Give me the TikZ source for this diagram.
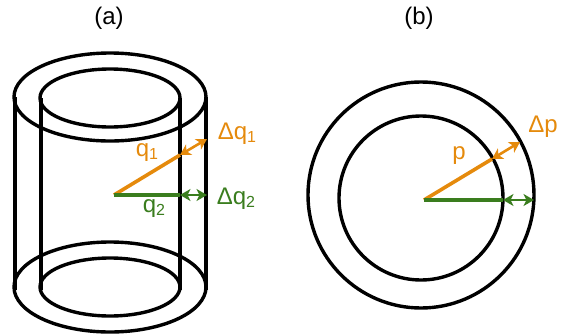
\documentclass[tikz,border=0pt]{standalone}
\usepackage{fontspec}
\setmainfont{Liberation Sans}
\usetikzlibrary{arrows.meta}
\definecolor{arrorange}{HTML}{E58A0C}
\definecolor{arrgreen}{HTML}{3A7D1E}
\newcommand{\subq}[1]{q\raisebox{-3pt}{\fontsize{16}{16}\selectfont #1}}
\tikzset{
  wall/.style={line width=3.9pt,black},
  rim/.style={line width=3.4pt,black},
  spoke/.style={line width=3.6pt},
  gap/.style={<->,line width=2.6pt},
  lab/.style={font=\fontsize{24}{26}\selectfont,inner sep=0pt},
}
\begin{document}
\begin{tikzpicture}[x=1pt,y=-1pt,>={Stealth[length=10.5pt,width=12pt,inset=3pt]}]
\useasboundingbox (0,0) rectangle (566,333);

% (a)
\draw[wall] (15,97)--(15,290);
\draw[wall] (206,97)--(206,290);
\draw[wall] (41,98)--(41,290);
\draw[wall] (180,98)--(180,290);
\draw[rim] (110,97) ellipse [x radius=96,y radius=44];
\draw[rim] (110,98) ellipse [x radius=70,y radius=29];
\draw[rim] (110,287) ellipse [x radius=96,y radius=45];
\draw[rim] (110,287) ellipse [x radius=70,y radius=29];

\coordinate (Oa) at (114,195);
\coordinate (Qa) at (180,155);
\coordinate (Ra) at (207,139);
\coordinate (Sa) at (180,195);
\coordinate (Ta) at (207,195);
\draw[spoke,arrorange] (Oa)--(Qa);
\draw[gap,arrorange] (Qa)--(Ra);
\draw[spoke,arrgreen] (Oa)--(Sa);
\draw[gap,arrgreen] (Sa)--(Ta);

% (b)
\coordinate (Ob) at (424,200);
\coordinate (Qb) at (492,159);
\coordinate (Rb) at (520,142);
\coordinate (Sb) at (503,200);
\coordinate (Tb) at (534,200);
\coordinate (Co) at (421,195);
\coordinate (Ci) at (421,198);
\draw[rim] (Co) circle [radius=113];
\draw[rim] (Ci) circle [radius=82];
\draw[spoke,arrorange] (Ob)--(Qb);
\draw[gap,arrorange] (Qb)--(Rb);
\draw[spoke,arrgreen] (Ob)--(Sb);
\draw[gap,arrgreen] (Sb)--(Tb);

\node[lab] (capa) at (109,18) {(a)};
\node[lab] (capb) at (419,18) {(b)};
\node[lab,arrorange] (q1) at (147,153) {\subq{1}};
\node[lab,arrorange] (dq1) at (237,134) {Δ\subq{1}};
\node[lab,arrgreen] (q2) at (154,209) {\subq{2}};
\node[lab,arrgreen] (dq2) at (236,199) {Δ\subq{2}};
\node[lab,arrorange] (p) at (459,156) {p};
\node[lab,arrorange] (dp) at (543,127) {Δp};
\end{tikzpicture}
\end{document}
